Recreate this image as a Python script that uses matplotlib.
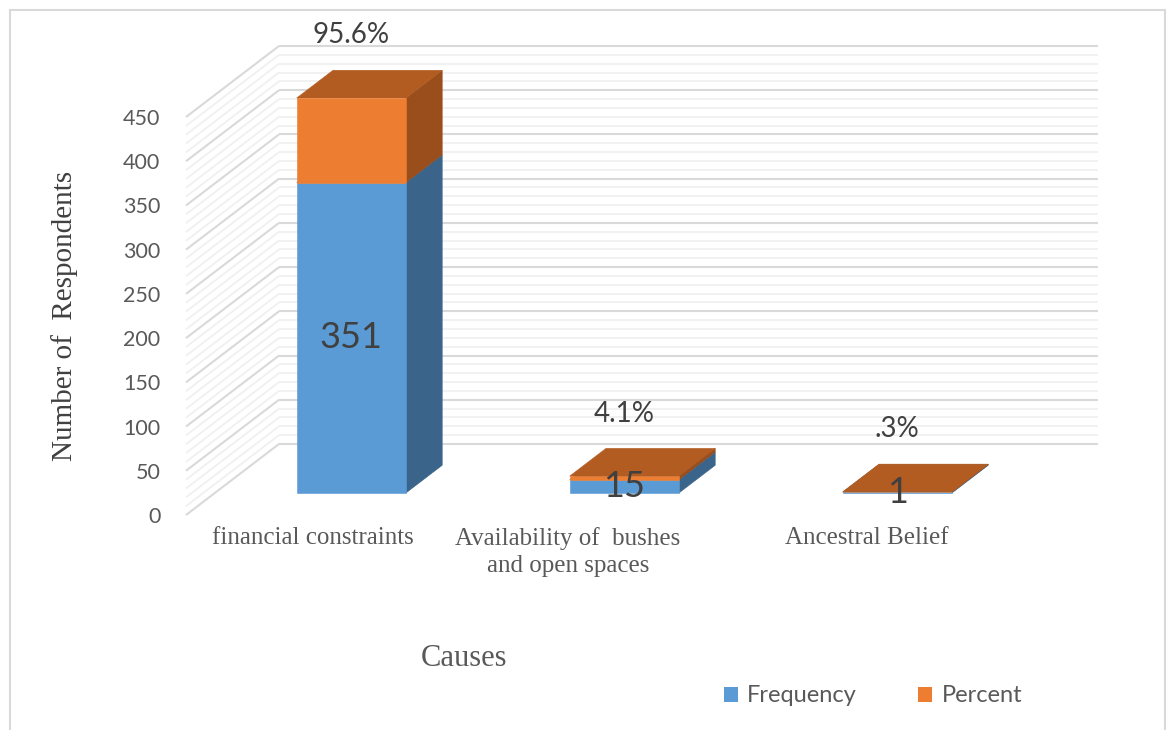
import matplotlib
matplotlib.use('Agg')
import matplotlib.pyplot as plt
from matplotlib.patches import Polygon, Rectangle, Patch

# chart data
causes = ['financial constraints', 'Availability of  bushes\nand open spaces', 'Ancestral Belief']
frequency = [351, 15, 1]
percent = [95.6, 4.1, 0.3]
y_ticks = list(range(0, 451, 50))
series_names = ['Frequency', 'Percent']

# face colours: front, top, side
blue = ('#5b9bd5', '#4a7db0', '#3a6489')
orange = ('#ed7d31', '#b35c22', '#9a4e1c')

# oblique depth of the floor, in category units and value units
DX = 0.3407
DV = 80.3
D0, D1 = 0.31, 0.70        # bar depth (fraction of floor depth)
W0, W1 = 0.30, 0.70        # bar width inside its category

plt.rcParams['font.family'] = ['Lato', 'DejaVu Sans']
SERIF = 'Liberation Serif'

fig = plt.figure(figsize=(11.69, 7.30), dpi=100)
ax = fig.add_axes([186 / 1169, (730 - 515) / 730, 819 / 1169, 398 / 730])
ax.set_xlim(0, len(causes))
ax.set_ylim(0, 450)
ax.patch.set_visible(False)
for s in ax.spines.values():
    s.set_visible(False)
ax.set_xticks([])
ax.set_yticks(y_ticks)
ax.tick_params(axis='y', length=0, pad=18.5, labelsize=15.5, labelcolor='#595959')


def proj(x, v, d):
    return (x + d * DX, v + d * DV)


# side wall and back wall grid
ncat = len(causes)
for major in (False, True):
    for v in range(0, 451, 10):
        if (v % 50 == 0) != major:
            continue
        col = '#d9d9d9' if major else '#f0f0f0'
        lw = 1.5 if major else 1.3
        ax.plot([0, DX], [v, v + DV], color=col, lw=lw, clip_on=False, zorder=1,
                solid_capstyle='butt')
        ax.plot([DX, ncat + DX], [v + DV, v + DV], color=col, lw=lw, clip_on=False,
                zorder=1, solid_capstyle='butt')


def box(i, lo, hi, colors):
    front, top, side = colors
    x0, x1 = i + W0, i + W1
    faces = [
        ([proj(x1, lo, D0), proj(x1, lo, D1), proj(x1, hi, D1), proj(x1, hi, D0)], side),
        ([proj(x0, hi, D0), proj(x1, hi, D0), proj(x1, hi, D1), proj(x0, hi, D1)], top),
        ([proj(x0, lo, D0), proj(x1, lo, D0), proj(x1, hi, D0), proj(x0, hi, D0)], front),
    ]
    for pts, c in faces:
        ax.add_patch(Polygon(pts, closed=True, fc=c, ec=c, lw=0.4,
                             clip_on=False, zorder=3))


for i, (f, p) in enumerate(zip(frequency, percent)):
    box(i, 0, f, blue)
    box(i, f, f + p, orange)

    cx = i + 0.5 + D0 * DX
    ax.text(cx, f / 2 + D0 * DV, str(f), ha='center', va='center',
            fontsize=26, color='#404040', zorder=5)
    ax.annotate(f'{p:.1f}%'.lstrip('0'), xy=(cx, f + p + D0 * DV),
                xytext=(0, 45), textcoords='offset points', annotation_clip=False,
                ha='center', va='center', fontsize=20, color='#404040', zorder=5)

# category labels along the front edge of the floor
label_shift = [-7, -20, -1]
for i, name in enumerate(causes):
    ax.annotate(name, xy=(i + 0.5, 0), xytext=(label_shift[i], -9),
                textcoords='offset points', ha='center', va='top',
                multialignment='center', family=SERIF, fontsize=18,
                color='#595959', linespacing=1.25, annotation_clip=False)

fig.text(65 / 1169, 1 - 316 / 730, 'Number of  Respondents', rotation=90,
         ha='center', va='center', family=SERIF, fontsize=21, color='#404040')
fig.text(464 / 1169, 1 - 658 / 730, 'Causes', ha='center', va='center',
         family=SERIF, fontsize=22, color='#595959')

handles = [Patch(fc=blue[0], ec='none'), Patch(fc=orange[0], ec='none')]
fig.legend(handles, series_names, loc='center', ncol=2, frameon=False,
           bbox_to_anchor=(873 / 1169, 1 - 696 / 730), fontsize=17,
           handlelength=0.6, handleheight=0.6, handletextpad=0.4,
           columnspacing=2.6, labelcolor='#595959')

# outer chart border
fig.patches.append(Rectangle((10 / 1169, -0.05), (1165 - 10) / 1169, 1.05 - 10 / 730,
                             transform=fig.transFigure, fill=False,
                             ec='#d9d9d9', lw=1.5))

fig.savefig('out.png', dpi=100)
